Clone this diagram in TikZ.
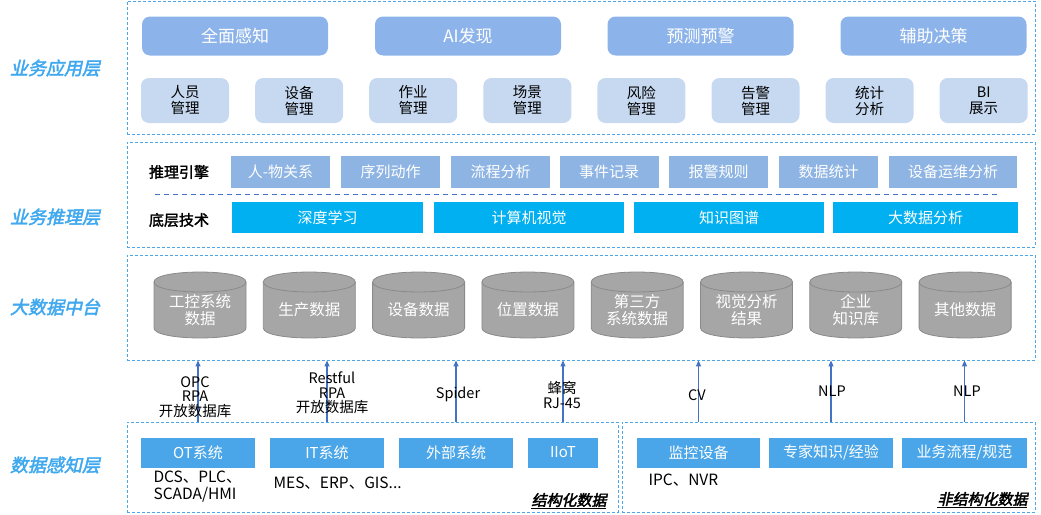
\documentclass[tikz,border=0pt]{standalone}
\usepackage{fontspec}
\setmainfont{Noto Sans CJK SC}
\newfontfamily\layerfont[FakeBold=2.5,FakeSlant=0.22]{Noto Sans CJK SC}
\newfontfamily\headfont[FakeBold=1.8]{Noto Sans CJK SC}
\usetikzlibrary{arrows.meta}
\definecolor{frameblue}{HTML}{4DA6E8}
\definecolor{layerblue}{HTML}{3FA8EE}
\definecolor{appdark}{HTML}{8DB4EA}
\definecolor{applight}{HTML}{C6D9F1}
\definecolor{reasonblue}{HTML}{8EB4E3}
\definecolor{techblue}{HTML}{00B0F0}
\definecolor{srcblue}{HTML}{4AA6E8}
\definecolor{cylgray}{HTML}{A6A6A6}
\definecolor{cylline}{HTML}{8A8A8A}
\definecolor{feedblue}{HTML}{4472C4}

\begin{document}
\begin{tikzpicture}[x=1pt,y=-1pt,>={Triangle[length=6pt,width=5pt]},
    layer/.style={draw=frameblue,line width=0.8pt,dash pattern=on 3pt off 2pt,inner sep=0pt},
    layername/.style={text=layerblue,font=\fontsize{18}{20}\selectfont\layerfont},
    appbig/.style={fill=appdark,rounded corners=8pt,minimum width=186,minimum height=39,
        inner sep=0pt,text=white,font=\fontsize{17}{19}\selectfont},
    appsmall/.style={fill=applight,rounded corners=8pt,minimum width=88,minimum height=45,
        inner sep=0pt,align=center,font=\fontsize{14.5}{16}\selectfont},
    reason/.style={fill=reasonblue,minimum height=32,inner sep=0pt,text=white,
        font=\fontsize{15}{17}\selectfont},
    tech/.style={fill=techblue,minimum height=31,inner sep=0pt,text=white,
        font=\fontsize{15}{17}\selectfont},
    rowhead/.style={font=\fontsize{15}{17}\selectfont\headfont},
    cyltext/.style={text=white,align=center,font=\fontsize{15.5}{17}\selectfont},
    src/.style={fill=srcblue,minimum height=30,inner sep=0pt,text=white,
        font=\fontsize{15}{17}\selectfont},
    note/.style={align=left,font=\fontsize{15.5}{17}\selectfont},
    feedlab/.style={align=center,font=\fontsize{14.5}{14.5}\selectfont},
    feed/.style={->,draw=feedblue,fill=feedblue,line width=1.1pt},
    tag/.style={font=\fontsize{15}{17}\selectfont\layerfont}]
    \useasboundingbox (0,0) rectangle (1041,514);

    % 分层框
    \node[layer,minimum width=908,minimum height=133] (l1) at (581,67.5) {};
    \node[layer,minimum width=908,minimum height=105] (l2) at (581,194.5) {};
    \node[layer,minimum width=908,minimum height=105] (l3) at (581,307.5) {};
    \node[layer,minimum width=491,minimum height=90] (l4a) at (372.5,467) {};
    \node[layer,minimum width=413,minimum height=90] (l4b) at (828.5,467) {};

    \node[layername] (n1) at (55,68) {业务应用层};
    \node[layername] (n2) at (55,217) {业务推理层};
    \node[layername] (n3) at (55,307) {大数据中台};
    \node[layername] (n4) at (55,465) {数据感知层};

    % 业务应用层
    \foreach \x/\lab [count=\i] in {235/全面感知,468/AI发现,700.5/预测预警,933.5/辅助决策}{
        \node[appbig] (app\i) at (\x,36) {\lab};
    }
    \foreach \lab [count=\i, evaluate=\i as \x using 185+114.1*(\i-1)] in {
        {人员\\管理},{设备\\管理},{作业\\管理},{场景\\管理},
        {风险\\管理},{告警\\管理},{统计\\分析},{BI\\展示}}{
        \node[appsmall] (mgr\i) at (\x,100.5) {\lab};
    }

    % 业务推理层
    \node[rowhead] (eng) at (179,172) {推理引擎};
    \node[rowhead] (base) at (179,220) {底层技术};
    \foreach \x/\w/\lab [count=\i] in {
        280.5/99/人-物关系,390.5/99/序列动作,500.5/99/流程分析,609/99/事件记录,
        718.5/99/报警规则,828.5/99/数据统计,953/128/设备运维分析}{
        \node[reason,minimum width=\w] (rs\i) at (\x,172) {\lab};
    }
    \draw[feedblue,line width=1pt,dash pattern=on 5pt off 4pt] (155,194) -- (1000,194);
    \foreach \x/\w/\lab [count=\i] in {
        327.5/191/深度学习,529/190/计算机视觉,729/190/知识图谱,925.5/185/大数据分析}{
        \node[tech,minimum width=\w] (tc\i) at (\x,217.5) {\lab};
    }

    % 大数据中台
    \foreach \lab [count=\i, evaluate=\i as \x using 200+109.3*(\i-1)] in {
        {工控系统\\数据},生产数据,设备数据,位置数据,{第三方\\系统数据},
        {视觉分析\\结果},{企业\\知识库},其他数据}{
        \filldraw[fill=cylgray,draw=cylline,line width=0.8pt]
            (\x-46,282) -- (\x-46,328) .. controls (\x-46,341.3) and (\x+46,341.3) .. (\x+46,328)
            -- (\x+46,282) .. controls (\x+46,268.7) and (\x-46,268.7) .. (\x-46,282) -- cycle;
        \draw[cylline,line width=0.8pt]
            (\x-46,282) .. controls (\x-46,295.3) and (\x+46,295.3) .. (\x+46,282);
        \node[cyltext] (db\i) at (\x,310) {\lab};
    }

    % 数据感知层
    \node[src,minimum width=114] (ot) at (198,452.5) {OT系统};
    \node[src,minimum width=114] (it) at (327,452.5) {IT系统};
    \node[src,minimum width=114] (ext) at (456,452.5) {外部系统};
    \node[src,minimum width=70] (iiot) at (563,452.5) {IIoT};
    \node[src,minimum width=123] (cam) at (698.5,452.5) {监控设备};
    \node[src,minimum width=124] (exp) at (831,452.5) {专家知识/经验};
    \node[src,minimum width=125] (flow) at (964.5,452.5) {业务流程/规范};

    \node[note,anchor=west] (otnote) at (150,486.5) {DCS、PLC、\\SCADA/HMI};
    \node[note,anchor=west] (itnote) at (270,483) {MES、ERP、GIS...};
    \node[note,anchor=west] (camnote) at (645,480) {IPC、NVR};
    \node[tag,anchor=east] (st) at (610,501) {\underline{结构化数据}};
    \node[tag,anchor=east] (ust) at (1031,500) {\underline{非结构化数据}};

    % 接入方式
    \foreach \s in {ot,it,ext,iiot,cam,exp,flow}{
        \draw[feed] (\s |- l4a.north) -- (\s |- l3.south);
    }
    \node[feedlab] (f1) at (195,397) {OPC\\RPA\\开放数据库};
    \node[feedlab] (f2) at (332,393) {Restful\\RPA\\开放数据库};
    \node[feedlab] (f3) at (458,394) {Spider};
    \node[feedlab] (f4) at (562,395) {蜂窝\\RJ-45};
    \node[feedlab] (f5) at (697,395) {CV};
    \node[feedlab] (f6) at (832,391) {NLP};
    \node[feedlab] (f7) at (967,391) {NLP};
\end{tikzpicture}
\end{document}
